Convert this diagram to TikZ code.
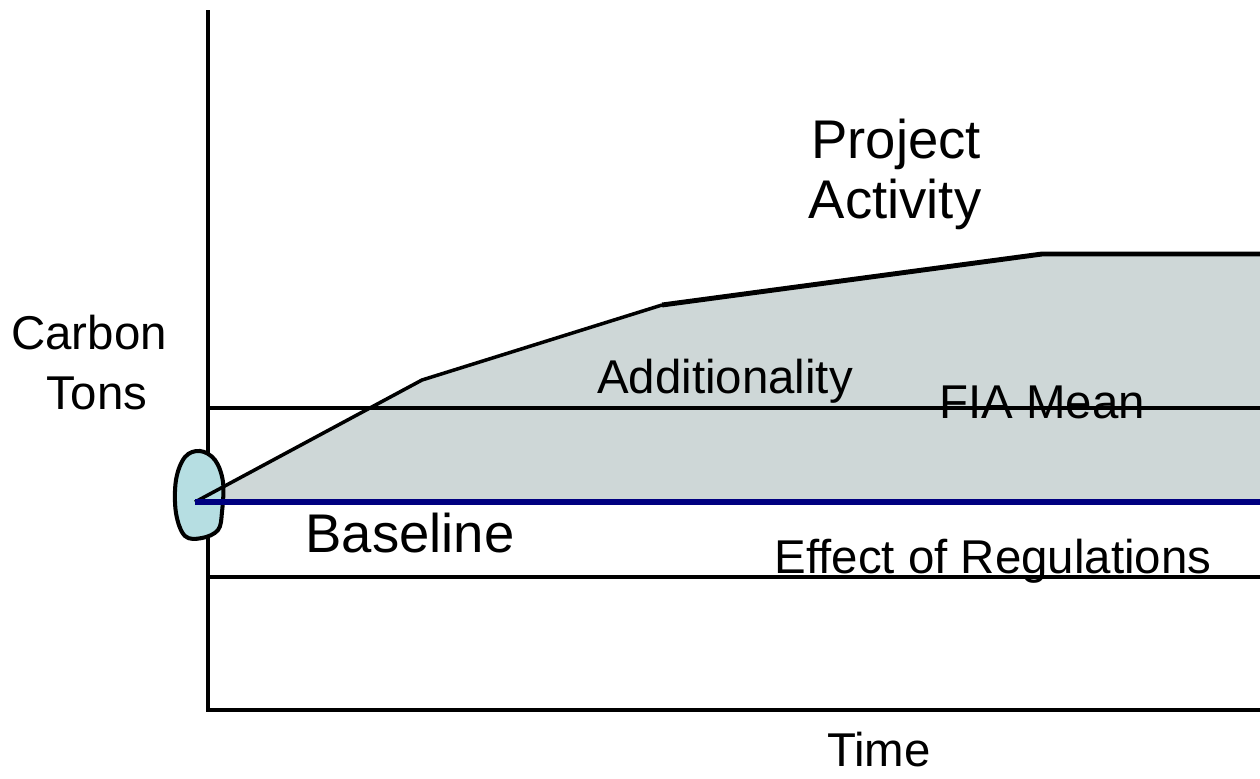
\documentclass[tikz,border=0pt]{standalone}
\usepackage{fontspec}
\setmainfont{Liberation Sans}
\usetikzlibrary{
  positioning,
}
\definecolor{navyline}{RGB}{0,0,128}
\definecolor{areagray}{RGB}{206,215,215}
\definecolor{blobblue}{RGB}{182,222,226}
\tikzstyle{axis} = [line width=2pt, black]
\tikzstyle{guide} = [line width=2pt, black]
\tikzstyle{txt} = [font=\fontsize{27}{32}\selectfont, inner sep=0pt, anchor=base]
\tikzstyle{bigtxt} = [font=\fontsize{31}{36}\selectfont, inner sep=0pt, anchor=base]

\begin{document}
\begin{tikzpicture}[x=0.02cm,y=-0.02cm]
			\useasboundingbox (0,0) rectangle (1260,778);

			% points of the curves
			\coordinate (origin) at (195,502);
			\coordinate (k1) at (422,380);
			\coordinate (k2) at (662,305);
			\coordinate (k3) at (1042,254);
			\coordinate (topend) at (1260,254);
			\coordinate (baseend) at (1260,502);
			\coordinate (axtop) at (208,10);
			\coordinate (axcorner) at (208,710);
			\coordinate (axend) at (1260,710);
			\coordinate (fiastart) at (208,408);
			\coordinate (fiaend) at (1260,408);
			\coordinate (regstart) at (208,577);
			\coordinate (regend) at (1260,577);

			% shaded area
			\fill[areagray] (origin) -- (k1) -- (k2) -- (k3) -- (topend) -- (baseend) -- cycle;

			\draw[guide] (fiastart) -- (fiaend);
			\draw[guide] (regstart) -- (regend);
			\draw[axis] (axtop) -- (axcorner) -- (axend);

			% starting blob
			\draw[line width=2.3pt,fill=blobblue] plot[smooth cycle,tension=0.6] coordinates {(200,451) (215,460) (223,482) (222,512) (218,530) (202,538) (185,536) (176,513) (176,480) (185,457)};

			\draw[line width=2pt] (origin) -- (k1) -- (k2);
			\draw[line width=2.8pt,line join=round] (k2) -- (k3) -- (topend);
			\draw[line width=3.4pt,navyline] (origin) -- (baseend);

			\node[bigtxt] (project) at (896,158) {Project};
			\node[bigtxt] (activity) at (895,218) {Activity};
			\node[txt] (carbon) at (89,349) {Carbon};
			\node[txt] (tons) at (97,409) {Tons};
			\node[txt] (additionality) at (725,393) {Additionality};
			\node[txt] (fiamean) at (1042,418) {FIA Mean};
			\node[bigtxt] (baseline) at (410,552) {Baseline};
			\node[txt] (regulations) at (993,573) {Effect of Regulations};
			\node[txt] (time) at (879,766) {Time};
		\end{tikzpicture}
\end{document}
